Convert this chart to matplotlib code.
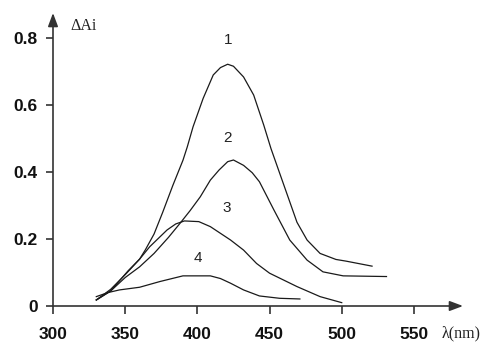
import matplotlib
matplotlib.use("Agg")
import matplotlib.pyplot as plt

# Curve 1
wl1 = [330, 340, 346, 352, 360, 364, 370, 376, 383, 390, 393, 397, 404, 411, 416, 421, 425, 432, 439, 446, 451, 460, 469, 476, 485, 496, 503, 521]
a1 = [0.018, 0.045, 0.075, 0.105, 0.14, 0.168, 0.215, 0.28, 0.36, 0.435, 0.475, 0.535, 0.62, 0.69, 0.712, 0.722, 0.716, 0.684, 0.63, 0.54, 0.47, 0.36, 0.25, 0.197, 0.157, 0.139, 0.134, 0.119]
# Curve 2
wl2 = [330, 340, 350, 360, 370, 380, 388, 395, 402, 409, 415, 421, 425, 432, 438, 443, 453, 464, 476, 487, 501, 531]
a2 = [0.018, 0.045, 0.085, 0.117, 0.157, 0.205, 0.247, 0.285, 0.326, 0.376, 0.406, 0.431, 0.436, 0.42, 0.398, 0.371, 0.287, 0.197, 0.137, 0.102, 0.09, 0.088]
# Curve 3
wl3 = [330, 340, 351, 360, 367, 379, 385, 391, 401, 409, 423, 432, 441, 450, 469, 485, 500]
a3 = [0.018, 0.05, 0.098, 0.14, 0.177, 0.227, 0.245, 0.254, 0.252, 0.237, 0.197, 0.167, 0.127, 0.098, 0.058, 0.028, 0.01]
# Curve 4
wl4 = [330, 338, 346, 360, 374, 390, 409, 416, 423, 432, 443, 457, 471]
a4 = [0.028, 0.04, 0.048, 0.056, 0.073, 0.09, 0.09, 0.082, 0.068, 0.048, 0.03, 0.023, 0.021]

curve_labels = ["1", "2", "3", "4"]
label_pos = [(421.4, 0.794), (421.0, 0.503), (420.3, 0.292), (400.6, 0.142)]

xticks = [300, 350, 400, 450, 500, 550]
yticks = [0, 0.2, 0.4, 0.6, 0.8]
ytick_labels = ["0", "0.2", "0.4", "0.6", "0.8"]

fig = plt.figure(figsize=(4.86, 3.42), dpi=100)
ax = fig.add_axes([53/486, 36/342, (463-53)/486, (306-13)/342])
ax.set_xlim(300, 584)
ax.set_ylim(0, 0.875)

lc = "#1a1a1a"
for wl, a in [(wl1, a1), (wl2, a2), (wl3, a3), (wl4, a4)]:
    ax.plot(wl, a, color=lc, lw=0.9, solid_joinstyle="round")

for t, (x, y) in zip(curve_labels, label_pos):
    ax.text(x, y, t, ha="center", va="center", fontsize=11,
            family="Liberation Sans", color="#222222")

for s in ["top", "right", "left", "bottom"]:
    ax.spines[s].set_visible(False)

axcol = "#333333"
ax.annotate("", xy=(1.0, 0), xytext=(0, 0), xycoords="axes fraction",
            arrowprops=dict(arrowstyle="-|>,head_length=0.8,head_width=0.3", color=axcol, lw=1.2, shrinkA=0, shrinkB=0))
ax.annotate("", xy=(0, 1.0), xytext=(0, 0), xycoords="axes fraction",
            arrowprops=dict(arrowstyle="-|>,head_length=0.8,head_width=0.3", color=axcol, lw=1.2, shrinkA=0, shrinkB=0))

ax.set_xticks(xticks)
ax.set_xticklabels([str(v) for v in xticks])
ax.set_yticks(yticks)
ax.set_yticklabels(ytick_labels)
ax.tick_params(axis="x", direction="out", length=6, width=1.2, color=axcol, pad=9)
ax.tick_params(axis="y", direction="out", length=5, width=1.2, color=axcol, pad=6)
for lab in ax.get_xticklabels() + ax.get_yticklabels():
    lab.set_fontfamily("Liberation Sans")
    lab.set_fontweight("bold")
    lab.set_fontsize(12.5)
    lab.set_color("#111111")

fig.text(70/486, 1 - 26/342, "ΔAi", ha="left", va="center", fontsize=11.5,
         family="Liberation Serif", color="#222222")
fig.text(442/486, 1 - 333/342, "λ(nm)", ha="left", va="center", fontsize=11.5,
         family="Liberation Serif", color="#222222")

fig.savefig("out.png", dpi=100)
